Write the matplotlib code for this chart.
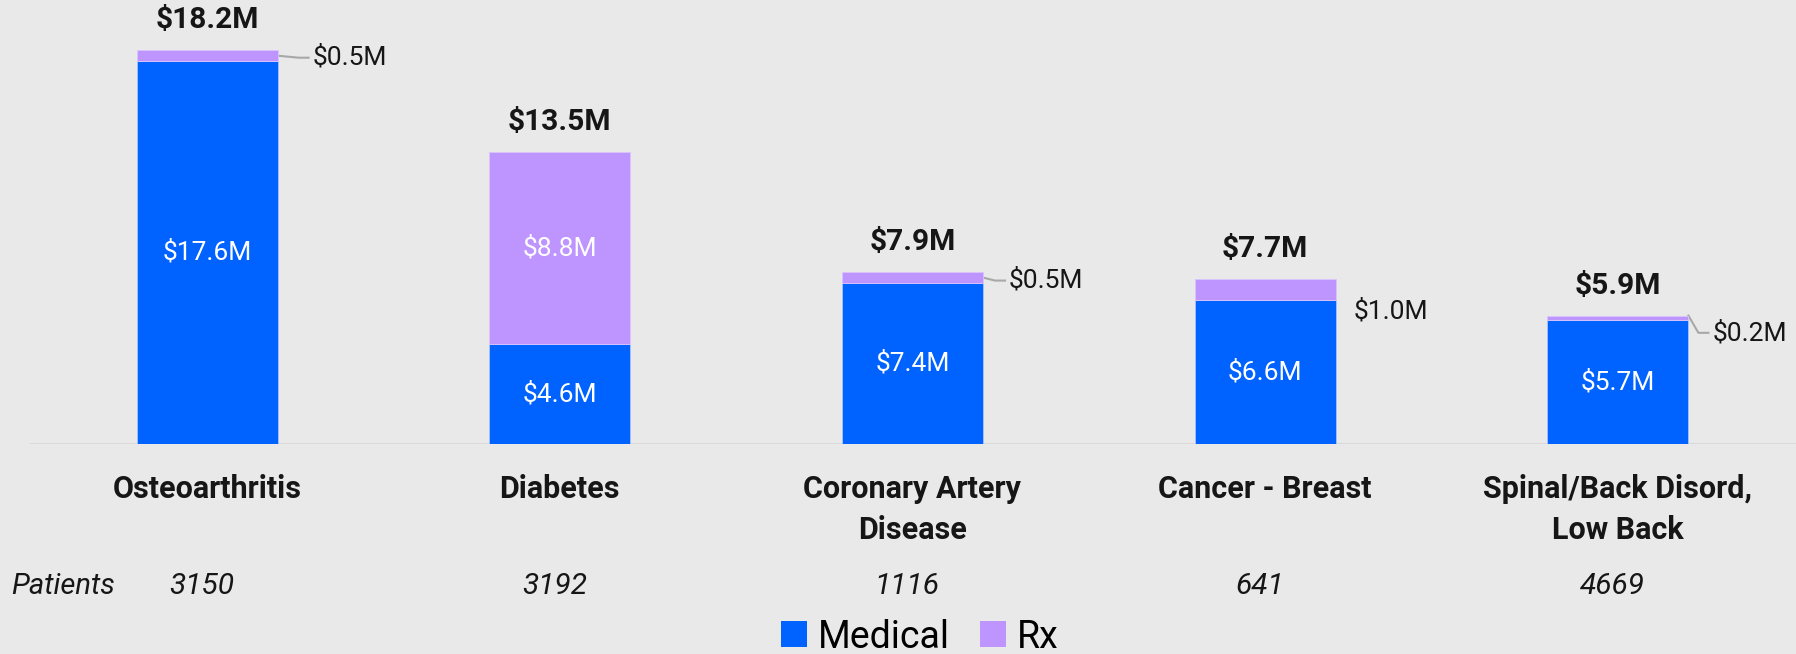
import matplotlib
matplotlib.use("Agg")
import matplotlib.pyplot as plt
from matplotlib.patches import Patch

plt.rcParams['font.family'] = ['Roboto', 'DejaVu Sans']

# ---- data ----
categories = ["Osteoarthritis", "Diabetes", "Coronary Artery\nDisease",
              "Cancer - Breast", "Spinal/Back Disord,\nLow Back"]
medical = [17.6, 4.6, 7.4, 6.6, 5.7]
rx = [0.5, 8.8, 0.5, 1.0, 0.2]
totals = [18.2, 13.5, 7.9, 7.7, 5.9]
patients = [3150, 3192, 1116, 641, 4669]

# ---- style ----
BG = "#e9e9e9"
BLUE = "#0062ff"
PURPLE = "#be95ff"
DPI = 100
W, H = 1796, 654
base_px = 444          # baseline y in pixels from top
left_px = 30

fig = plt.figure(figsize=(W / DPI, H / DPI), dpi=DPI, facecolor=BG)
ax = fig.add_axes([left_px / W, (H - base_px) / H, 1 - left_px / W, base_px / H])
ax.set_facecolor(BG)

x = list(range(len(categories)))
bw = 0.40
ax.bar(x, medical, width=bw, color=BLUE, edgecolor="#a8c4ff", linewidth=0.6, zorder=3)
ax.bar(x, rx, width=bw, bottom=medical, color=PURPLE, edgecolor="#d9c4ff",
       linewidth=0.6, zorder=3)

ax.set_xlim(-0.502, 4.505)
ax.set_ylim(0, 20.41)
for s in ax.spines.values():
    s.set_visible(False)
ax.axhline(0, color="#d9d9d9", lw=2.2, zorder=2)
ax.set_xticks([])
ax.set_yticks([])

fs = 19
fsb = 21.5
# medical labels (inside)
for i in x:
    ax.text(i, medical[i] / 2, f"${medical[i]:.1f}M", color="white", ha="center",
            va="center", fontsize=fs, zorder=4)

# rx labels
outside = [True, False, True, True, True]
gap_px = [35, 0, 26, 18, 24]
label_dy_px = [-2, 0, -3, -22, -15]
leader = [True, False, True, False, True]
px_per_x = (W - left_px) / (4.505 + 0.502)
px_per_y = base_px / 20.41
for i in x:
    mid = medical[i] + rx[i] / 2
    if not outside[i]:
        ax.text(i, mid, f"${rx[i]:.1f}M", color="white", ha="center", va="center",
                fontsize=fs, zorder=4)
        continue
    edge = i + bw / 2
    lx = edge + gap_px[i] / px_per_x
    ly = mid + label_dy_px[i] / px_per_y
    if i == 4:
        y0 = medical[i] + rx[i]
    else:
        y0 = mid
    ax.text(lx, ly, f"${rx[i]:.1f}M", color="#161616", ha="left", va="center",
            fontsize=fs, zorder=4)
    if leader[i]:
        ax.plot([edge, edge + (gap_px[i] - 14) / px_per_x, lx - 4 / px_per_x],
                [y0, ly, ly], color="#a8a8a8", lw=1.5, zorder=2, clip_on=False)

# totals
for i in x:
    ax.annotate(f"${totals[i]:.1f}M", (i, medical[i] + rx[i]), xytext=(0, 21.6),
                textcoords="offset points", ha="center", va="center",
                fontsize=fsb, fontweight="bold", color="#161616", annotation_clip=False)

# category labels
xtr = ax.get_xaxis_transform()
for i in x:
    ax.text(i, -(474 - base_px) / base_px, categories[i], transform=xtr, ha="center",
            va="top", fontsize=22, fontweight="bold", color="#161616", linespacing=1.45)

# patients row
py = -(586 - base_px) / base_px
fig.text(11 / W, (H - 586) / H, "Patients", ha="left", va="center", fontsize=21,
         style="italic", color="#161616")
for i in x:
    ax.text(i - 0.015, py, f"{patients[i]}", transform=xtr, ha="center", va="center",
            fontsize=21.5, style="italic", color="#161616")

# legend
handles = [Patch(facecolor=BLUE, edgecolor="none", label="Medical"),
           Patch(facecolor=PURPLE, edgecolor="none", label="Rx")]
fig.legend(handles=handles, loc="center", bbox_to_anchor=(920 / W, (H - 637) / H),
           ncol=2, frameon=False, fontsize=27, handlelength=0.68, handleheight=0.68,
           handletextpad=0.3, columnspacing=0.8, borderaxespad=0, borderpad=0)

fig.savefig("out.png", dpi=DPI, facecolor=BG)
